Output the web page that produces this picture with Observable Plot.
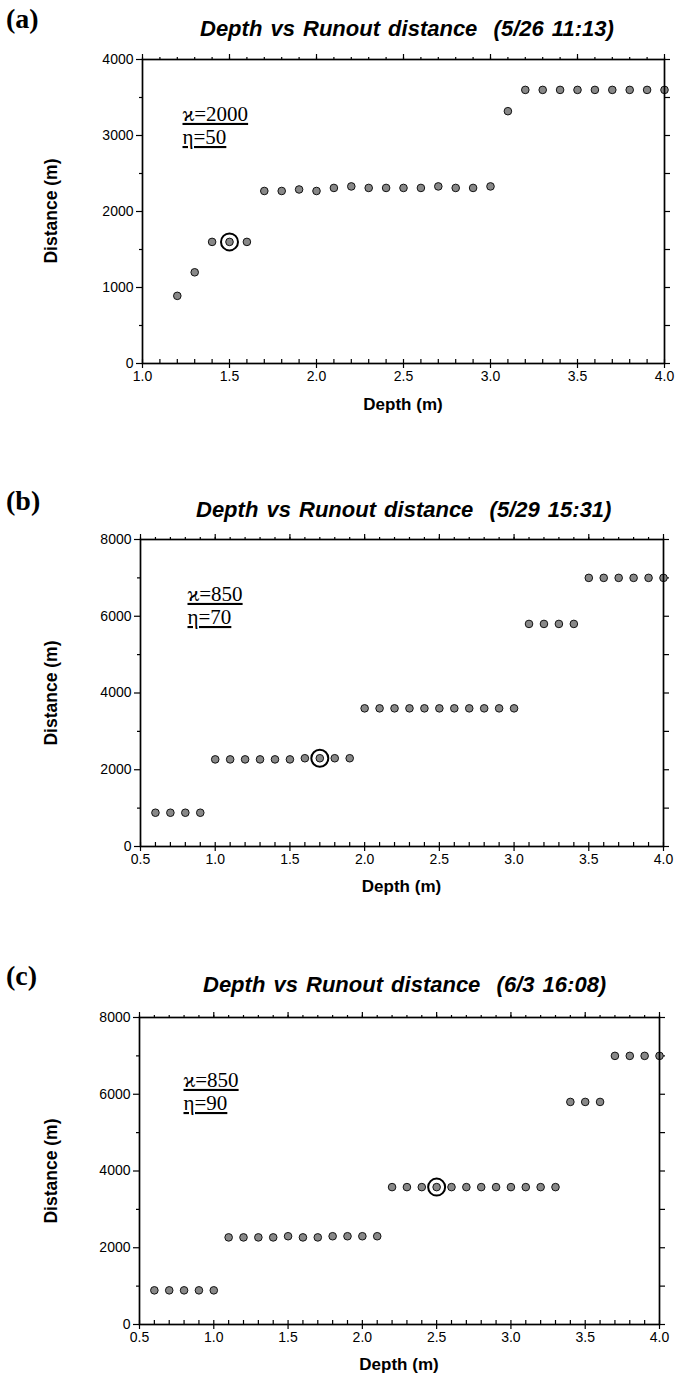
<!DOCTYPE html>
<html><head><meta charset="utf-8">
<script src="https://cdn.jsdelivr.net/npm/d3@7"></script>
<script src="https://cdn.jsdelivr.net/npm/@observablehq/plot@0.6"></script>
<style>
html,body{margin:0;padding:0;background:#fff;}
body{width:676px;height:1377px;position:relative;overflow:hidden;font-family:"Liberation Sans",Arial,sans-serif;color:#000}
.abs{position:absolute;white-space:pre;line-height:1}
.plab{font-family:"Liberation Serif","Times New Roman",serif;font-size:28px;font-weight:bold}
.title{font-weight:bold;font-style:italic;font-size:22px;word-spacing:2px}
.xlab{font-weight:bold;font-size:17px;transform:translateX(-50%)}
.ylab{font-weight:bold;font-size:17.5px;transform:translate(-50%,-50%) rotate(-90deg)}
svg{position:absolute;left:0;background:transparent}
</style></head><body>
<script>
// ---- Data ----
const panelLabels = ["(a)", "(b)", "(c)"];
const titles = ["Depth vs Runout distance  (5/26 11:13)", "Depth vs Runout distance  (5/29 15:31)", "Depth vs Runout distance  (6/3 16:08)"];
const xTitle = "Depth (m)";
const yTitle = "Distance (m)";

const depthA = [1.2,1.3,1.4,1.5,1.6,1.7,1.8,1.9,2.0,2.1,2.2,2.3,2.4,2.5,2.6,2.7,2.8,2.9,3.0,3.1,3.2,3.3,3.4,3.5,3.6,3.7,3.8,3.9,4.0];
const distA  = [890,1200,1600,1600,1600,2270,2270,2290,2270,2310,2330,2310,2310,2310,2310,2330,2310,2310,2330,3320,3600,3600,3600,3600,3600,3600,3600,3600,3600];
const circledA = [1.5];
const annotA = "ϰ=2000\nη=50";

const depthB = [0.6,0.7,0.8,0.9,1.0,1.1,1.2,1.3,1.4,1.5,1.6,1.7,1.8,1.9,2.0,2.1,2.2,2.3,2.4,2.5,2.6,2.7,2.8,2.9,3.0,3.1,3.2,3.3,3.4,3.5,3.6,3.7,3.8,3.9,4.0];
const distB  = [880,880,880,880,2270,2270,2270,2270,2270,2270,2300,2300,2300,2300,3600,3600,3600,3600,3600,3600,3600,3600,3600,3600,3600,5800,5800,5800,5800,7000,7000,7000,7000,7000,7000];
const circledB = [1.7];
const annotB = "ϰ=850\nη=70";

const depthC = [0.6,0.7,0.8,0.9,1.0,1.1,1.2,1.3,1.4,1.5,1.6,1.7,1.8,1.9,2.0,2.1,2.2,2.3,2.4,2.5,2.6,2.7,2.8,2.9,3.0,3.1,3.2,3.3,3.4,3.5,3.6,3.7,3.8,3.9,4.0];
const distC  = [890,890,890,890,890,2270,2270,2270,2270,2300,2270,2270,2300,2300,2300,2300,3580,3580,3580,3580,3580,3580,3580,3580,3580,3580,3580,3580,5800,5800,5800,7000,7000,7000,7000];
const circledC = [2.5];
const annotC = "ϰ=850\nη=90";

const xMajorA = [1.0,1.5,2.0,2.5,3.0,3.5,4.0];
const xMajorBC = [0.5,1.0,1.5,2.0,2.5,3.0,3.5,4.0];
const yMajorA = [0,1000,2000,3000,4000];
const yMinorA = [500,1500,2500,3500];
const yMajorBC = [0,2000,4000,6000,8000];
const yMinorBC = [1000,3000,5000,7000];

// ---- Layout ----
const layouts = [
  {top:0,   height:420, frameTop:59,   zeroY:363,  left:142, right:664, xDomain:[1.0,4.0], yDomain:[0,4000],
   depth:depthA, dist:distA, circled:circledA, annot:annotA, xMajor:xMajorA, yMajor:yMajorA, yMinor:yMinorA, adx:40, ady:45,
   labTop:5, titleTop:18, titleLeft:200, xlabTop:396},
  {top:440, height:460, frameTop:539,  zeroY:846,  left:140, right:663, xDomain:[0.5,4.0], yDomain:[0,8000],
   depth:depthB, dist:distB, circled:circledB, annot:annotB, xMajor:xMajorBC, yMajor:yMajorBC, yMinor:yMinorBC, adx:47, ady:45,
   labTop:487, titleTop:499, titleLeft:196, xlabTop:878},
  {top:920, height:457, frameTop:1017, zeroY:1324, left:139, right:659, xDomain:[0.5,4.0], yDomain:[0,8000],
   depth:depthC, dist:distC, circled:circledC, annot:annotC, xMajor:xMajorBC, yMajor:yMajorBC, yMinor:yMinorBC, adx:44, ady:53,
   labTop:962, titleTop:974, titleLeft:203, xlabTop:1356}
];

function addDiv(cls, text, left, top) {
  const d = document.createElement("div");
  d.className = "abs " + cls;
  d.textContent = text;
  d.style.left = left + "px";
  d.style.top = top + "px";
  document.body.appendChild(d);
  return d;
}

layouts.forEach((L, i) => {
  const mt = L.frameTop - L.top;
  const mb = L.top + L.height - L.zeroY;
  const ml = L.left, mr = 676 - L.right;
  const innerH = L.zeroY - L.frameTop;
  const data = L.depth.map((d, j) => ({depth: d, dist: L.dist[j]}));
  const circ = data.filter(d => L.circled.includes(d.depth));
  const xMinor = d3.range(Math.round(L.xDomain[0]*10), Math.round(L.xDomain[1]*10) + 1).map(v => v/10);
  const yAll = [...L.yMajor, ...L.yMinor];

  const chart = Plot.plot({
    width: 676, height: L.height,
    marginTop: mt, marginBottom: mb, marginLeft: ml, marginRight: mr,
    x: {domain: L.xDomain},
    y: {domain: L.yDomain},
    style: {fontFamily: "'Liberation Sans', Arial, sans-serif", fontSize: "14px", color: "black", background: "transparent"},
    marks: [
      Plot.axisX({anchor: "bottom", ticks: L.xMajor, tickSize: 5, tickPadding: 3, tickFormat: d => d.toFixed(1), label: null, fontSize: 14, strokeWidth: 1.2}),
      Plot.ruleX(xMinor, {x: d => d, insetTop: innerH - 4, stroke: "black", strokeWidth: 1.2}),
      Plot.axisX({anchor: "top", ticks: xMinor, tickSize: 3, tickFormat: () => "", label: null, strokeWidth: 1.2}),
      Plot.axisX({anchor: "top", ticks: L.xMajor, tickSize: 6, tickFormat: () => "", label: null, strokeWidth: 1.2}),
      Plot.axisY({anchor: "left", ticks: L.yMajor, tickSize: 6, tickPadding: 3, tickFormat: d => String(d), label: null, fontSize: 14, strokeWidth: 1.2}),
      Plot.axisY({anchor: "left", ticks: L.yMinor, tickSize: 3, tickFormat: () => "", label: null, strokeWidth: 1.2}),
      Plot.axisY({anchor: "right", ticks: yAll, tickSize: 5, tickFormat: () => "", label: null, strokeWidth: 1.2}),
      Plot.dot(data, {x: "depth", y: "dist", r: 3.8, fill: "#888888", stroke: "#111", strokeWidth: 1}),
      Plot.dot(circ, {x: "depth", y: "dist", r: 8.5, fill: "none", stroke: "#000", strokeWidth: 2}),
      Plot.text([L.annot], {text: d => d, frameAnchor: "top-left", dx: L.adx, dy: L.ady, lineAnchor: "top", textAnchor: "start",
        lineHeight: 1.1, fontSize: 21, fontFamily: "'Liberation Serif', 'Times New Roman', serif", fill: "black"}),
      Plot.frame({stroke: "black", strokeWidth: 1.7})
    ]
  });
  chart.style.top = L.top + "px";
  chart.querySelectorAll('g[aria-label="text"] text').forEach(t => { t.style.textDecoration = "underline"; });
  document.body.appendChild(chart);

  addDiv("plab", panelLabels[i], 6, L.labTop);
  addDiv("title", titles[i], L.titleLeft, L.titleTop);
  addDiv("xlab", xTitle, (L.left + L.right) / 2, L.xlabTop);
  addDiv("ylab", yTitle, 52, (L.frameTop + L.zeroY) / 2);
});
</script>
</body></html>
